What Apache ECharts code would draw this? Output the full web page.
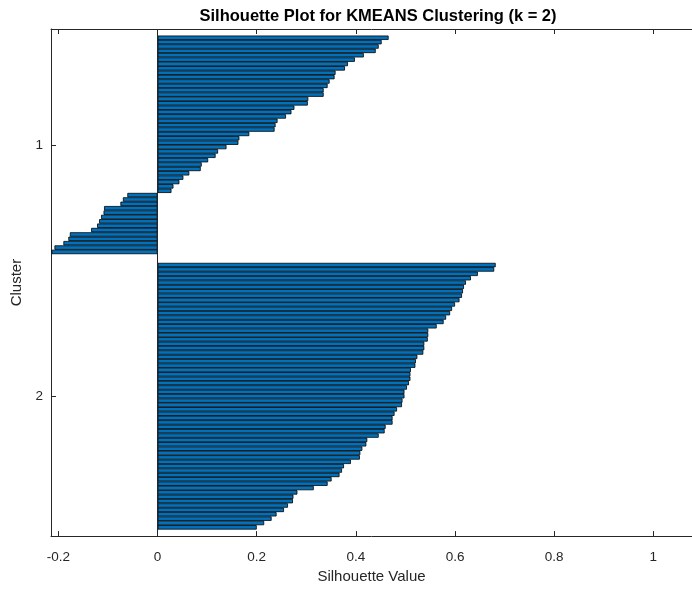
<!DOCTYPE html>
<html>
<head>
<meta charset="utf-8">
<script src="https://cdn.jsdelivr.net/npm/echarts@6/dist/echarts.min.js"></script>
<style>
  html, body { margin: 0; padding: 0; background: #fff; }
  #chart { width: 692px; height: 589px; }
</style>
</head>
<body>
<div id="chart"></div>
<script>
// Silhouette values per point, sorted within each cluster (top to bottom)
const cluster1Values = [
  0.466, 0.452, 0.446, 0.440, 0.416, 0.398, 0.384, 0.378, 0.359, 0.357,
  0.347, 0.343, 0.335, 0.335, 0.304, 0.303, 0.276, 0.270, 0.259, 0.242,
  0.238, 0.236, 0.185, 0.165, 0.163, 0.139, 0.122, 0.117, 0.102, 0.089,
  0.087, 0.064, 0.052, 0.044, 0.032, 0.028,
  -0.061, -0.070, -0.075, -0.108, -0.109, -0.114, -0.118, -0.122, -0.134, -0.177,
  -0.180, -0.190, -0.208, -0.214
];
const cluster2Values = [
  0.682, 0.679, 0.646, 0.632, 0.622, 0.618, 0.616, 0.614, 0.609, 0.600,
  0.594, 0.590, 0.582, 0.577, 0.563, 0.546, 0.546, 0.545, 0.538, 0.538,
  0.536, 0.524, 0.521, 0.520, 0.511, 0.510, 0.510, 0.507, 0.503, 0.498,
  0.498, 0.494, 0.493, 0.483, 0.478, 0.474, 0.474, 0.460, 0.458, 0.446,
  0.423, 0.421, 0.413, 0.409, 0.408, 0.390, 0.376, 0.372, 0.367, 0.351,
  0.343, 0.315, 0.282, 0.274, 0.273, 0.263, 0.255, 0.240, 0.230, 0.215,
  0.200
];
const clusterNames = ['1', '2'];
const xTickValues = [-0.2, 0, 0.2, 0.4, 0.6, 0.8, 1];

// Layout of the row slots: empty slots above, between and below the clusters
const SPACE = 2;
const clusters = [cluster1Values, cluster2Values];
let slot = 1 + SPACE;
const barRows = [];
const clusterCenters = [];
clusters.forEach(vals => {
  const start = slot;
  vals.forEach(v => { barRows.push([slot, v]); slot++; });
  clusterCenters.push((start + slot - 1) / 2);
  slot += SPACE;
});
const yMax = slot - 1;          // rows run from 1 (top) to yMax (bottom)

// Category axis in half-row steps so cluster centers can carry ticks
const nCats = (yMax - 1) * 2 + 1;
const cats = Array.from({ length: nCats }, (_, i) => String(1 + i / 2));
const barData = new Array(nCats).fill(null);
barRows.forEach(([row, v]) => { barData[(row - 1) * 2] = v; });
const tickIdx = clusterCenters.map(c => Math.round((c - 1) * 2));

const GRID = { left: 51, right: 0, top: 29, bottom: 46 };
const rowPx = (589 - GRID.top - GRID.bottom) / (yMax - 1);

const axisColor = '#262626';
const font = 'Liberation Sans, Arial, Helvetica, sans-serif';

const chart = echarts.init(document.getElementById('chart'), null, { renderer: 'canvas' });
chart.setOption({
  animation: false,
  backgroundColor: '#fff',
  title: {
    text: 'Silhouette Plot for KMEANS Clustering (k = 2)',
    left: 373,
    textAlign: 'center',
    top: 3,
    textStyle: { fontFamily: font, fontWeight: 'bold', fontSize: 16.5, color: '#000' }
  },
  grid: Object.assign({ containLabel: false }, GRID),
  xAxis: [
    {
      type: 'value',
      position: 'bottom',
      min: -0.215,
      max: 1.078,
      name: 'Silhouette Value',
      nameLocation: 'middle',
      nameGap: 30,
      nameTextStyle: { fontFamily: font, fontSize: 15, color: axisColor },
      axisLine: { show: true, onZero: false, lineStyle: { color: axisColor, width: 1 } },
      axisTick: { show: true, inside: true, length: 5, customValues: xTickValues,
                  lineStyle: { color: axisColor } },
      axisLabel: { customValues: xTickValues, margin: 14, fontFamily: font, fontSize: 13.5,
                   color: axisColor, formatter: v => String(+v.toFixed(1)) },
      splitLine: { show: false }
    },
    {
      type: 'value',
      position: 'top',
      min: -0.215,
      max: 1.078,
      axisLine: { show: true, onZero: false, lineStyle: { color: axisColor, width: 1 } },
      axisTick: { show: true, inside: true, length: 5, customValues: xTickValues,
                  lineStyle: { color: axisColor } },
      axisLabel: { show: false },
      splitLine: { show: false }
    }
  ],
  yAxis: {
    type: 'category',
    inverse: true,
    boundaryGap: false,
    data: cats,
    name: 'Cluster',
    nameLocation: 'middle',
    nameRotate: 90,
    nameGap: 21,
    nameTextStyle: { fontFamily: font, fontSize: 15, color: axisColor },
    axisLine: { show: true, onZero: false, lineStyle: { color: axisColor, width: 1 } },
    axisTick: { show: true, inside: true, length: 5,
                interval: idx => tickIdx.includes(idx),
                lineStyle: { color: axisColor } },
    axisLabel: {
      interval: idx => tickIdx.includes(idx),
      formatter: (val, idx) => clusterNames[tickIdx.indexOf(idx)] || '',
      margin: 8, fontFamily: font, fontSize: 13.5, color: axisColor
    },
    splitLine: { show: false }
  },
  series: [{
    type: 'bar',
    xAxisIndex: 0,
    data: barData,
    barWidth: rowPx,
    itemStyle: { color: '#0072BD', borderColor: '#000', borderWidth: 0.8 },
    markLine: {
      silent: true,
      symbol: ['none', 'none'],
      label: { show: false },
      lineStyle: { color: axisColor, width: 1, type: 'solid' },
      data: [{ xAxis: 0 }]
    }
  }]
});
</script>
</body>
</html>
